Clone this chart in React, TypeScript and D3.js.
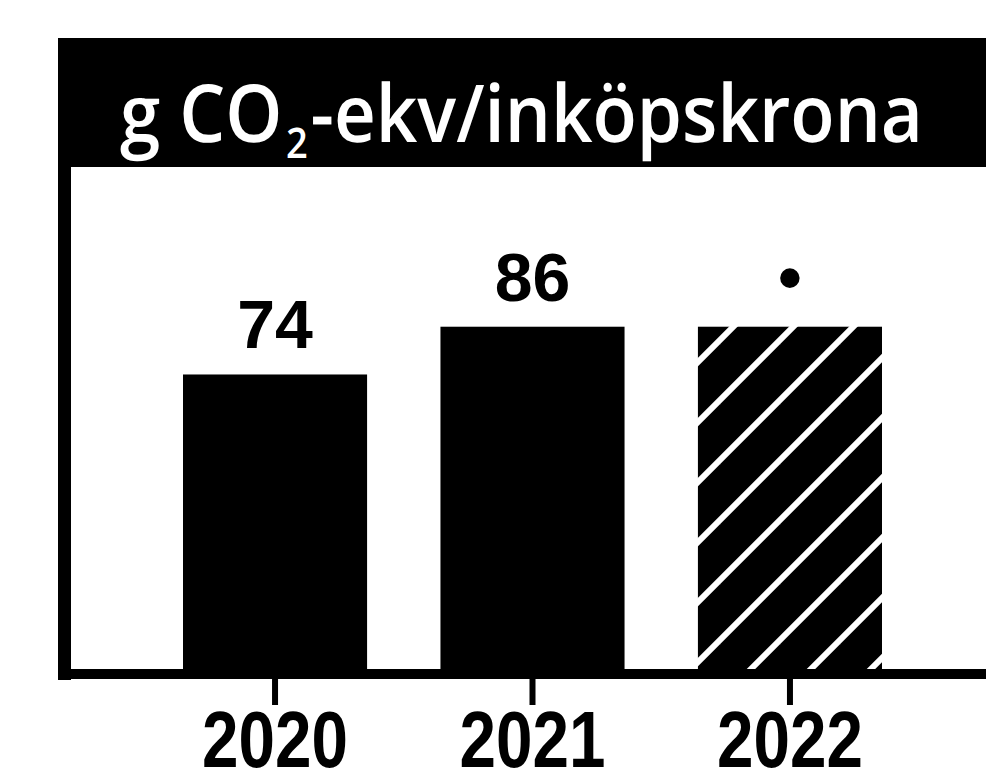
import React from "react";
import * as d3 from "d3";

const years = ["2020", "2021", "2022"];
const values = [74, 86, 86];
const valueLabels = ["74", "86", "•"];
const hatched = [false, false, true];
const titleMain = "g CO";
const titleSub = "2";
const titleRest = "-ekv/inköpskrona";

const W = 986;
const H = 784;

export default function App() {
  const baseline = 669;
  const x = d3.scaleBand<string>().domain(years).range([183, 882]).paddingInner(0.285).paddingOuter(0);
  const y = d3.scaleLinear().domain([0, 100]).range([baseline, baseline - 398]);
  const bw = x.bandwidth();

  return (
    <svg
      width={W}
      height={H}
      viewBox={`0 0 ${W} ${H}`}
      style={{ position: "absolute", left: 0, top: 0, display: "block", background: "#fff" }}
    >
      <defs>
        <pattern id="hatch" patternUnits="userSpaceOnUse" width={60} height={60}>
          <rect x={0} y={0} width={60} height={60} fill="#000" />
          <line x1={-10} y1={50} x2={50} y2={-10} stroke="#fff" strokeWidth={6} />
          <line x1={30} y1={70} x2={70} y2={30} stroke="#fff" strokeWidth={6} />
        </pattern>
      </defs>
      <rect x={0} y={0} width={W} height={H} fill="#fff" />
      {/* header band */}
      <rect x={58} y={38} width={W - 58} height={129} fill="#000" />
      <text
        x={120}
        y={142}
        fill="#fff"
        fontFamily="'Open Sans', 'DejaVu Sans', sans-serif"
        fontWeight={600}
        fontSize={80}
        textLength={803}
        lengthAdjust="spacingAndGlyphs"
        style={{ textRendering: "geometricPrecision" }}
      >
        <tspan>{titleMain}</tspan>
        <tspan fontSize={42} dx={4} dy={16}>{titleSub}</tspan>
        <tspan dx={3} dy={-16}>{titleRest}</tspan>
      </text>
      {/* left frame border */}
      <rect x={58} y={160} width={13} height={520} fill="#000" />
      {/* bars */}
      {years.map((yr, i) => (
        <rect
          key={yr}
          x={x(yr)}
          y={y(values[i])}
          width={bw}
          height={baseline - y(values[i]) + 2}
          fill={hatched[i] ? "url(#hatch)" : "#000"}
        />
      ))}
      {/* axis line */}
      <rect x={58} y={baseline} width={W - 58} height={10} fill="#000" />
      {/* ticks */}
      {years.map((yr) => (
        <rect key={"t" + yr} x={(x(yr) as number) + bw / 2 - 3} y={baseline + 8} width={6} height={28} fill="#000" />
      ))}
      {/* value labels */}
      {years.map((yr, i) => (
        <text
          key={"v" + yr}
          x={(x(yr) as number) + bw / 2}
          y={y(values[i]) - 26}
          textAnchor="middle"
          fontFamily="'Liberation Sans', Arial, sans-serif"
          fontWeight={700}
          fontSize={68}
          fill="#000"
        >
          {valueLabels[i]}
        </text>
      ))}
      {/* year labels */}
      {years.map((yr) => (
        <text
          key={"y" + yr}
          transform={`translate(${(x(yr) as number) + bw / 2},767) scale(0.82,1)`}
          textAnchor="middle"
          fontFamily="'Liberation Sans', Arial, sans-serif"
          fontWeight={700}
          fontSize={80}
          fill="#000"
        >
          {yr}
        </text>
      ))}
    </svg>
  );
}
